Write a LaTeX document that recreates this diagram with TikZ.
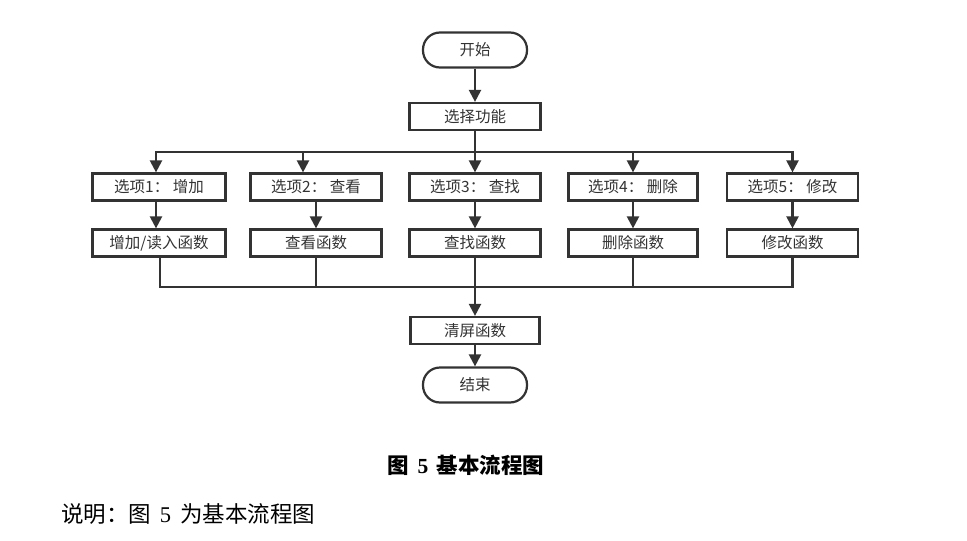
\documentclass[tikz,border=0pt]{standalone}
\usepackage{fontspec}
\setmainfont{Noto Sans CJK SC}
\newfontfamily\serifdigit{Liberation Serif}
\usetikzlibrary{arrows.meta}
\definecolor{ln}{HTML}{333333}
\tikzset{
  box/.style={draw=ln, line width=2.2pt, minimum width=131pt, minimum height=27pt, inner sep=0pt, font=\fontsize{15.5pt}{17pt}\selectfont, text=ln},
  term/.style={box, minimum width=104pt, minimum height=35pt, rounded corners=17pt},
  conn/.style={draw=ln, line width=2.2pt},
  arr/.style={conn, -{Triangle[length=12pt,width=12pt]}},
}
\begin{document}
\begin{tikzpicture}[x=1pt,y=-1pt]
\useasboundingbox (0,0) rectangle (967,541);
\node[term] (start) at (475,50) {开始};
\node[box] (sel) at (475,116.5) {选择功能};
\node[box, minimum width=133pt] (o1) at (159,187) {选项1： 增加};
\node[box] (o2) at (316,187) {选项2： 查看};
\node[box] (o3) at (475,187) {选项3： 查找};
\node[box, minimum width=129pt] (o4) at (633,187) {选项4： 删除};
\node[box] (o5) at (792.5,187) {选项5： 修改};
\node[box, minimum width=133pt] (f1) at (159,243) {增加/读入函数};
\node[box] (f2) at (316,243) {查看函数};
\node[box] (f3) at (475,243) {查找函数};
\node[box, minimum width=129pt] (f4) at (633,243) {删除函数};
\node[box] (f5) at (792.5,243) {修改函数};
\node[box, minimum width=129pt] (cls) at (475,330.5) {清屏函数};
\node[term] (end) at (475,385) {结束};
\coordinate (b) at (475,152);
\coordinate (m) at (475,287);
\draw[arr] (start) -- (sel);
\draw[conn] (sel) -- (b);
\draw[arr] (b) -| ([xshift=-3pt]o1.north);
\draw[arr] (b) -| ([xshift=-13pt]o2.north);
\draw[arr] (b) -- (o3.north);
\draw[arr] (b) -| (o4.north);
\draw[arr] (b) -| (o5.north);
\draw[arr] ([xshift=-3pt]o1.south) -- ([xshift=-3pt]f1.north);
\draw[arr] (o2) -- (f2);
\draw[arr] (o3) -- (f3);
\draw[arr] (o4) -- (f4);
\draw[arr] (o5) -- (f5);
\draw[conn] ([xshift=1pt]f1.south) |- (m);
\draw[conn] (f2.south) |- (m);
\draw[conn] (f4.south) |- (m);
\draw[conn] (f5.south) |- (m);
\draw[arr] (f3.south) -- (cls.north);
\draw[arr] (cls) -- (end);
\node[font=\fontsize{21.5pt}{24pt}\selectfont\bfseries] (cap) at (466,465) {图\, {\serifdigit 5}\, 基本流程图};
\node[font=\fontsize{22.5pt}{24pt}\selectfont, anchor=west, inner sep=0pt] (desc) at (61,514) {说明：图\, {\serifdigit 5}\, 为基本流程图};
\end{tikzpicture}
\end{document}
